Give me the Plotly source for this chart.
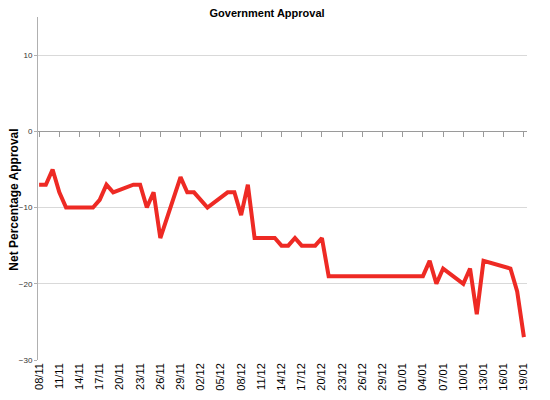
import plotly.graph_objects as go

# poll dates (dd/mm/yyyy) and net approval
dates = ["08/11/2010", "09/11/2010", "10/11/2010", "11/11/2010", "12/11/2010",
         "16/11/2010", "17/11/2010", "18/11/2010", "19/11/2010", "22/11/2010",
         "23/11/2010", "24/11/2010", "25/11/2010", "26/11/2010", "29/11/2010",
         "30/11/2010", "01/12/2010", "03/12/2010", "06/12/2010", "07/12/2010",
         "08/12/2010", "09/12/2010", "10/12/2010", "13/12/2010", "14/12/2010",
         "15/12/2010", "16/12/2010", "17/12/2010", "19/12/2010", "20/12/2010",
         "21/12/2010", "04/01/2011", "05/01/2011", "06/01/2011", "07/01/2011",
         "10/01/2011", "11/01/2011", "12/01/2011", "13/01/2011", "17/01/2011",
         "18/01/2011", "19/01/2011"]
approval = [-7, -7, -5, -8, -10,
            -10, -9, -7, -8, -7,
            -7, -10, -8, -14, -6,
            -8, -8, -10, -8, -8,
            -11, -7, -14, -14, -15,
            -15, -14, -15, -15, -14,
            -19, -19, -17, -20, -18,
            -20, -18, -24, -17, -18,
            -21, -27]

# convert to iso for the date axis
iso_dates = ["%s-%s-%s" % (d[6:], d[3:5], d[0:2]) for d in dates]

x_range = ["2010-11-07 20:00", "2011-01-19 11:00"]
y_min, y_max = -30, 15

fig = go.Figure()

fig.add_trace(go.Scatter(
    x=iso_dates,
    y=approval,
    mode="lines",
    line=dict(color="#ee2a24", width=4),
    showlegend=False,
    hoverinfo="x+y",
))

# dummy trace so the second x axis (drawn at y=0) exists
fig.add_trace(go.Scatter(
    x=[iso_dates[0]], y=[0], xaxis="x2", mode="markers",
    marker=dict(opacity=0), showlegend=False, hoverinfo="skip",
))

# y title sits a little below the middle of the axis, so use an annotation
fig.add_annotation(
    text="<b>Net Percentage Approval</b>",
    xref="paper", yref="paper",
    x=-0.048, y=0.466,
    xanchor="center", yanchor="middle",
    textangle=-90,
    showarrow=False,
    font=dict(size=12),
)

# the page puts the figure 8px in from the top-left, margins allow for that
fig.update_layout(
    width=550,
    height=400,
    margin=dict(l=30, r=31, t=9, b=48),
    paper_bgcolor="white",
    plot_bgcolor="white",
    font=dict(family="Liberation Sans, Arial, sans-serif", color="#000000"),
    title=dict(
        text="<b>Government Approval</b>",
        x=0.471, xanchor="center",
        y=0.997, yanchor="top",
        font=dict(size=11),
    ),
    xaxis=dict(
        type="date",
        range=x_range,
        tickformat="%d/%m",
        dtick=3 * 86400000,
        tick0="2010-11-08",
        tickangle=-90,
        tickfont=dict(size=11, color="#000000"),
        showgrid=False,
        zeroline=False,
        showline=False,
        ticks="",
        automargin=False,
    ),
    xaxis2=dict(
        type="date",
        range=x_range,
        overlaying="x",
        anchor="free",
        position=(0 - y_min) / (y_max - y_min),
        side="bottom",
        dtick=3 * 86400000,
        tick0="2010-11-08",
        showticklabels=False,
        showgrid=False,
        showline=True,
        linecolor="#9a9a9a",
        linewidth=1,
        ticks="outside",
        ticklen=5,
        tickcolor="#9a9a9a",
        automargin=False,
    ),
    yaxis=dict(
        range=[y_min, y_max],
        tick0=-30,
        dtick=10,
        tickfont=dict(size=8, color="#333333"),
        showgrid=True,
        gridcolor="#d9d9d9",
        gridwidth=1,
        zeroline=False,
        showline=True,
        linecolor="#b0b0b0",
        ticks="outside",
        ticklen=3,
        tickcolor="#b0b0b0",
        automargin=False,
    ),
)

fig.write_html("out.html")
